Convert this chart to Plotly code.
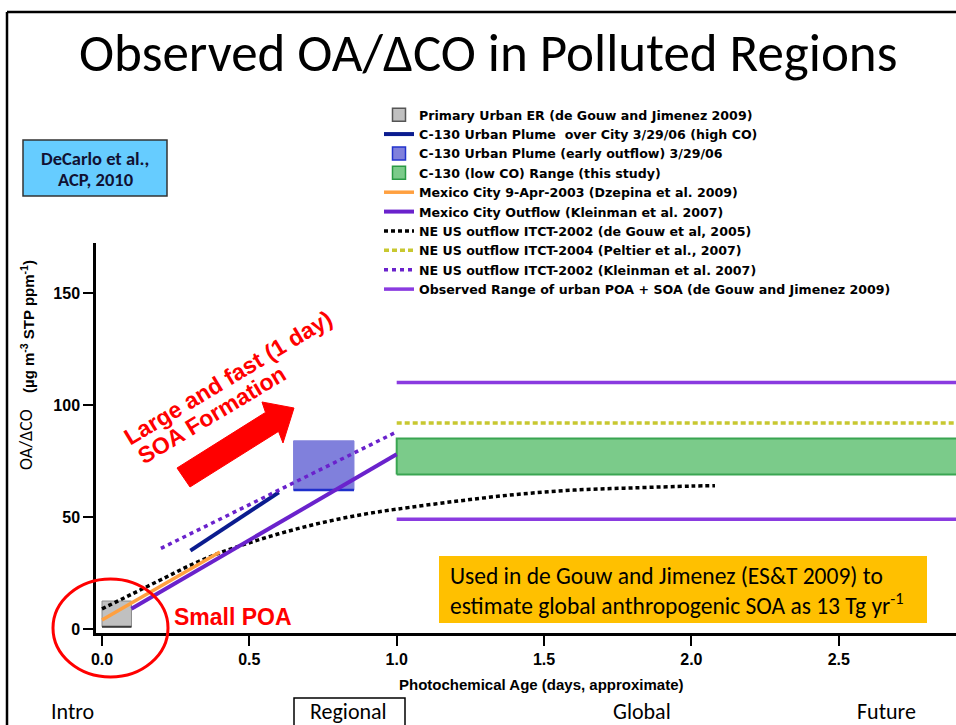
import plotly.graph_objects as go

# ---------------- data ----------------
x_ticks = [0.0, 0.5, 1.0, 1.5, 2.0, 2.5]
x_tick_labels = ["0.0", "0.5", "1.0", "1.5", "2.0", "2.5"]
y_ticks = [0, 50, 100, 150]
y_tick_labels = ["0", "50", "100", "150"]

primary_er_x = [0.0, 0.1]          # Primary Urban ER box
primary_er_y = [1.0, 12.5]
c130_city_x = [0.30, 0.60]         # C-130 urban plume over city (line)
c130_city_y = [35.0, 61.0]
c130_early_x = [0.65, 0.855]       # C-130 early outflow box
c130_early_y = [62.0, 84.0]
c130_lowco_x = [1.0, 2.95]         # C-130 low CO range box
c130_lowco_y = [69.0, 85.0]
mexico2003_x = [0.0, 0.4]
mexico2003_y = [4.0, 34.4]
mco_kleinman_x = [0.1, 1.0]
mco_kleinman_y = [9.0, 78.0]
neus_degouw_x = [0.0, 0.1, 0.2, 0.3, 0.4, 0.5, 0.6, 0.7, 0.8, 0.9, 1.0,
                 1.2, 1.4, 1.6, 1.8, 2.0, 2.08]
neus_degouw_y = [9.0, 15.5, 22.0, 28.5, 34.0, 38.5, 42.5, 46.0, 49.0, 51.5, 53.5,
                 57.0, 60.0, 62.0, 63.0, 63.8, 64.0]
neus_peltier_x = [1.0, 2.95]
neus_peltier_y = [92.0, 92.0]
neus_kleinman_x = [0.2, 1.0]
neus_kleinman_y = [36.0, 88.0]
obs_range_x = [1.0, 2.95]
obs_range_low = [49.0, 49.0]
obs_range_high = [110.0, 110.0]

names = [
    "Primary Urban ER (de Gouw and Jimenez 2009)",
    "C-130 Urban Plume  over City 3/29/06 (high CO)",
    "C-130 Urban Plume (early outflow) 3/29/06",
    "C-130 (low CO) Range (this study)",
    "Mexico City 9-Apr-2003 (Dzepina et al. 2009)",
    "Mexico City Outflow (Kleinman et al. 2007)",
    "NE US outflow ITCT-2002 (de Gouw et al, 2005)",
    "NE US outflow ITCT-2004 (Peltier et al., 2007)",
    "NE US outflow ITCT-2002 (Kleinman et al. 2007)",
    "Observed Range of urban POA + SOA (de Gouw and Jimenez 2009)",
]

nav_labels = ["Intro", "Regional", "Global", "Future"]

# ---------------- layout geometry ----------------
FIG_W, FIG_H = 956, 725
# plot area in page pixels
PL, PT, PR, PB = 96, 243, 956, 633
W, H = PR - PL, PB - PT


def px(xp):
    return (xp - PL) / W


def py(yp):
    return (PB - yp) / H


def box(xs, ys):
    return [xs[0], xs[1], xs[1], xs[0], xs[0]], [ys[0], ys[0], ys[1], ys[1], ys[0]]


fig = go.Figure()

# ---- boxes (drawn first, below lines) ----
bx, by = box(primary_er_x, primary_er_y)
fig.add_trace(go.Scatter(x=bx, y=by, mode="lines", fill="toself", fillcolor="#c0c0c0",
                         line=dict(color="#8a8a8a", width=1), showlegend=False, hoverinfo="skip"))
fig.add_trace(go.Scatter(x=primary_er_x, y=[primary_er_y[0]] * 2, mode="lines",
                         line=dict(color="#3a3a3a", width=2), showlegend=False, hoverinfo="skip"))

bx, by = box(c130_early_x, c130_early_y)
fig.add_trace(go.Scatter(x=bx, y=by, mode="lines", fill="toself", fillcolor="#8080dc",
                         line=dict(color="#8080dc", width=1), showlegend=False, hoverinfo="skip"))
fig.add_trace(go.Scatter(x=c130_early_x, y=[c130_early_y[0]] * 2, mode="lines",
                         line=dict(color="#1f2fcc", width=2.5), showlegend=False, hoverinfo="skip"))

bx, by = box(c130_lowco_x, c130_lowco_y)
fig.add_trace(go.Scatter(x=bx, y=by, mode="lines", fill="toself", fillcolor="#7bcb8a",
                         line=dict(color="#3aa552", width=2), showlegend=False, hoverinfo="skip"))

# ---- lines ----
fig.add_trace(go.Scatter(x=obs_range_x, y=obs_range_high, mode="lines", name=names[9],
                         line=dict(color="#8a3be0", width=3.5), legendrank=10))
fig.add_trace(go.Scatter(x=obs_range_x, y=obs_range_low, mode="lines", name=names[9],
                         line=dict(color="#8a3be0", width=3.5), showlegend=False))
fig.add_trace(go.Scatter(x=neus_peltier_x, y=neus_peltier_y, mode="lines", name=names[7],
                         line=dict(color="#c8c830", width=3.5, dash="5px,3px"), legendrank=8))
fig.add_trace(go.Scatter(x=neus_degouw_x, y=neus_degouw_y, mode="lines", name=names[6],
                         line=dict(color="#000000", width=3.5, dash="4px,3px", shape="spline"),
                         legendrank=7))
fig.add_trace(go.Scatter(x=mexico2003_x, y=mexico2003_y, mode="lines", name=names[4],
                         line=dict(color="#ffa040", width=3.5), legendrank=5))
fig.add_trace(go.Scatter(x=mco_kleinman_x, y=mco_kleinman_y, mode="lines", name=names[5],
                         line=dict(color="#6a22cc", width=4), legendrank=6))
fig.add_trace(go.Scatter(x=c130_city_x, y=c130_city_y, mode="lines", name=names[1],
                         line=dict(color="#0b1c8f", width=4), legendrank=2))
fig.add_trace(go.Scatter(x=neus_kleinman_x, y=neus_kleinman_y, mode="lines", name=names[8],
                         line=dict(color="#6a22cc", width=3.5, dash="4px,4px"), legendrank=9))

# ---- legend-only swatches for the boxes ----
fig.add_trace(go.Scatter(x=[None], y=[None], mode="markers", name=names[0], legendrank=1,
                         marker=dict(symbol="square", size=13, color="#c0c0c0",
                                     line=dict(color="#555555", width=1.5))))
fig.add_trace(go.Scatter(x=[None], y=[None], mode="markers", name=names[2], legendrank=3,
                         marker=dict(symbol="square", size=13, color="#8080dc",
                                     line=dict(color="#2233cc", width=1.5))))
fig.add_trace(go.Scatter(x=[None], y=[None], mode="markers", name=names[3], legendrank=4,
                         marker=dict(symbol="square", size=13, color="#7bcb8a",
                                     line=dict(color="#2a9a45", width=1.5))))

shapes = []
annotations = []


def note(text, x, y, font, angle=0, xanchor="center"):
    annotations.append(dict(xref="paper", yref="paper", x=px(x), y=py(y), showarrow=False,
                            xanchor=xanchor, yanchor="middle", text=text, textangle=angle,
                            font=font))


# frame lines of the slide
shapes.append(dict(type="line", xref="paper", yref="paper", x0=px(7), x1=px(970),
                   y0=py(12), y1=py(12), line=dict(color="black", width=2.5)))
shapes.append(dict(type="line", xref="paper", yref="paper", x0=px(7), x1=px(7),
                   y0=py(12), y1=py(740), line=dict(color="black", width=2.5)))

calibri = "Carlito, Lato, Open Sans, sans-serif"
arial = "Liberation Sans, Arial, sans-serif"

# DeCarlo box
shapes.append(dict(type="rect", xref="paper", yref="paper", x0=px(23), x1=px(167),
                   y0=py(140), y1=py(196), fillcolor="#66ccff", line=dict(color="#333333", width=1.5)))
note("DeCarlo et al.,", 95, 158, dict(family=calibri, size=18.5, color="#111133", weight="bold"))
note("ACP, 2010", 95, 180, dict(family=calibri, size=18.5, color="#111133", weight="bold"))

# yellow note box
shapes.append(dict(type="rect", xref="paper", yref="paper", x0=px(439), x1=px(927),
                   y0=py(556), y1=py(623), fillcolor="#ffc000", line=dict(width=0)))
note_font = dict(family=calibri, size=23.5, color="black")
note("Used in de Gouw and Jimenez (ES&amp;T 2009) to", 448, 576, note_font, xanchor="left")
note("estimate global anthropogenic SOA as 13 Tg yr<sup>-1</sup>", 448, 604, note_font, xanchor="left")

# red arrow
pts = [(177, 468), (265.5, 412.4), (262, 402), (294, 408), (283, 443), (278.5, 431.4), (190, 487)]
path = "M " + " L ".join(f"{px(a):.5f},{py(b):.5f}" for a, b in pts) + " Z"
shapes.append(dict(type="path", xref="paper", yref="paper", path=path,
                   fillcolor="#ff0000", line=dict(color="#ff0000", width=1)))

# red ellipse
shapes.append(dict(type="circle", xref="paper", yref="paper", x0=px(53), x1=px(168),
                   y0=py(579), y1=py(677), line=dict(color="#ff0000", width=3)))

# red texts
red_font = dict(family=arial, size=23, color="#ff0000", weight="bold")
note("Large and fast (1 day)", 227.5, 377.5, red_font, angle=-31)
note("SOA Formation", 211.5, 415, red_font, angle=-31)
note("Small POA", 233, 617, dict(family=arial, size=23, color="#ff0000", weight="bold"))

# title
note("Observed OA/ΔCO in Polluted Regions", 488, 53, dict(family=calibri, size=53, color="black"))

# axis titles
note("OA/ΔCO", 26, 440, dict(family=calibri, size=18, color="black"), angle=-90)
note("(µg m<sup>-3</sup> STP ppm<sup>-1</sup>)", 27, 327,
     dict(family=arial, size=15, color="black", weight="bold"), angle=-90)
note("Photochemical Age (days, approximate)", 541, 684,
     dict(family=arial, size=15, color="black", weight="bold"))

# bottom navigation
nav_font = dict(family=calibri, size=22, color="black")
for label, cx in zip(nav_labels, [72, 348, 642, 886]):
    note(label, cx, 711, nav_font)
shapes.append(dict(type="rect", xref="paper", yref="paper", x0=px(294), x1=px(405),
                   y0=py(698), y1=py(750), line=dict(color="black", width=1.5)))

tickfont = dict(family=arial, size=16, color="black", weight="bold")
fig.update_layout(
    width=FIG_W, height=FIG_H,
    margin=dict(l=PL, r=FIG_W - PR, t=PT, b=FIG_H - PB, pad=0),
    paper_bgcolor="white", plot_bgcolor="white",
    showlegend=True,
    legend=dict(x=px(379), y=py(100), xanchor="left", yanchor="top",
                bgcolor="rgba(0,0,0,0)", borderwidth=0, itemwidth=30,
                font=dict(family="DejaVu Sans, sans-serif", size=12.6, color="black", weight="bold"),
                tracegroupgap=0),
    xaxis=dict(range=[-6 / 294.7, (W - 6) / 294.7], tickvals=x_ticks, ticktext=x_tick_labels,
               ticks="outside", ticklen=10, tickwidth=2, tickcolor="black",
               showline=True, linecolor="black", linewidth=2.5, showgrid=False, zeroline=False,
               tickfont=tickfont),
    yaxis=dict(range=[-4 / 2.24, (H - 4) / 2.24], tickvals=y_ticks, ticktext=y_tick_labels,
               ticks="outside", ticklen=10, tickwidth=2, tickcolor="black",
               showline=True, linecolor="black", linewidth=2.5, showgrid=False, zeroline=False,
               tickfont=tickfont),
    shapes=shapes,
    annotations=annotations,
)

fig.write_html(
    "out.html",
    config={"displayModeBar": False},
    post_script="document.body.style.margin='0';"
                "document.documentElement.style.overflow='hidden';"
                "document.body.style.overflow='hidden';",
)
